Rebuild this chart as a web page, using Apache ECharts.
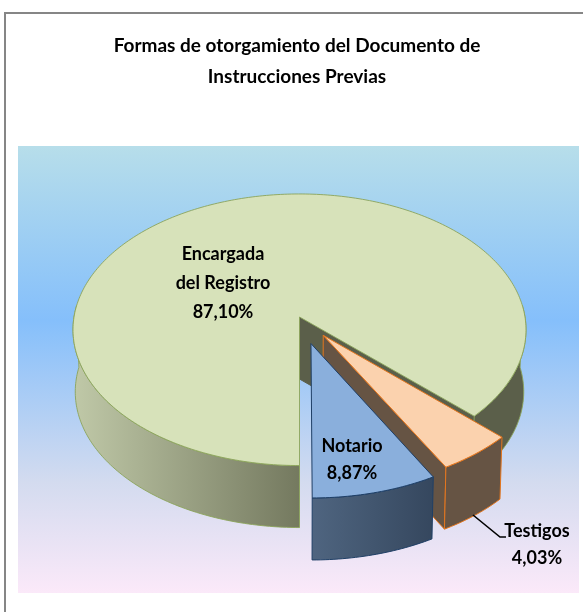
<!DOCTYPE html>
<html><head><meta charset="utf-8">
<style>html,body{margin:0;padding:0;background:#fff}#c{width:583px;height:612px}</style>
<script src="https://cdn.jsdelivr.net/npm/echarts@6/dist/echarts.min.js"></script>
</head><body><div id="c"></div>
<script>
var titleLines = ['Formas de otorgamiento del Documento de', 'Instrucciones Previas'];
var categories = ['Encargada\ndel Registro', 'Testigos', 'Notario'];
var values = [87.10, 4.03, 8.87];

// Projection of the tilted pie (style constants, not data)
var FONT = 'Lato,"Liberation Sans",sans-serif';
var CX = 299.5, CY = 317, A = 225.5, B = 134.6, K = 0.0939, DEPTH = 62, XS = 0.99;
var explode = [0, 0.17, 0.2];
var edgeSkew = [[0,0],[0,3],[3,0]];   // perspective drift of the shared cut between the two small slices
var looks = [
  {top:'#d7e2ba', line:'#8ba45a', side:'#5b5f4a', radial:'#5b5f4a',
   wall:['#c0c9a8','#74795f'], lw:0.9},
  {top:'#fbd2ae', line:'#e4761e', side:'#665444', radial:'#665444',
   wall:['#665444','#665444'], lw:1},
  {top:'#8aafdc', line:'#1f3f66', side:'#3a4c63', radial:'#3a4c63',
   wall:['#4f6580','#35475e'], lw:1}
];
var labelAt = [[223,283],[537,545],[352,460]];
var total = values.reduce(function(a,b){return a+b;},0);
var starts = []; (function(){var s=180; values.forEach(function(v){starts.push(s); s+=v/total*360;});})();

function pt(deg, r, dx, dy, low){
  var t = deg*Math.PI/180, u = r*Math.sin(t)+dx, v = -r*Math.cos(t)+dy, d = 1-K*v;
  var X = A*u/d, Y = B*v/d;
  return low ? [CX+X*XS, CY+Y+DEPTH] : [CX+X, CY+Y];
}
function arc(a,b,dx,dy,low){
  var out=[], n=Math.max(2,Math.ceil(Math.abs(b-a))), i;
  for(i=0;i<=n;i++) out.push(pt(a+(b-a)*i/n,1,dx,dy,low));
  return out;
}
function poly(points, fill, stroke, lw){
  return {type:'polygon', shape:{points:points}, style:{fill:fill, stroke:stroke, lineWidth:lw, lineJoin:'round'}};
}
function wall(a,b,dx,dy,fill,look){
  return poly(arc(a,b,dx,dy,false).concat(arc(b,a,dx,dy,true)), fill, look.line, look.lw);
}
function grad(c){ return new echarts.graphic.LinearGradient(0,0,1,0,[{offset:0,color:c[0]},{offset:1,color:c[1]}]); }

function renderSlice(params, api){
  var i = params.dataIndex, v = api.value(0);
  var a0 = starts[i]+edgeSkew[i][0], a1 = starts[i]+v/total*360+edgeSkew[i][1];
  var mid = (a0+a1)/2*Math.PI/180, e = explode[i];
  var dx = e*Math.sin(mid), dy = -e*Math.cos(mid), L = looks[i], kids = [];
  var c0 = pt(0,0,dx,dy,false), c1 = pt(0,0,dx,dy,true);
  if(i===0){
    var endA = a1;                       // far cut edge of the main body
    var eT = pt(endA,1,dx,dy,false), eB = pt(endA,1,dx,dy,true);
    kids.push(poly([c0,eT,eB,c1], L.radial, L.radial, 1));
    kids.push(wall(180,275,dx,dy,grad(L.wall),L));
    kids.push(wall(85,endA-360,dx,dy,L.side,L));
  } else {
    if(i===1){
      var pT = pt(a1,1,dx,dy,false), pB = pt(a1,1,dx,dy,true);
      kids.push(poly([c0,pT,pB,c1], L.radial, L.line, L.lw));
    }
    kids.push(wall(a0,a1,dx,dy,i===2?grad(L.wall):L.side,L));
  }
  kids.push(poly([c0].concat(arc(a0,a1,dx,dy,false)), L.top, L.line, L.lw));
  if(i===1){
    kids.push({type:'polyline', shape:{points:[[473,515],[500,537],[506,537]]},
      style:{fill:null, stroke:'#000', lineWidth:1.6}});
  }
  kids.push({type:'text', z2:10, style:{
    x:labelAt[i][0], y:labelAt[i][1], align:'center', verticalAlign:'middle',
    text:categories[i]+'\n'+v.toFixed(2).replace('.',',')+'%',
    font:'bold 18px '+FONT, lineHeight:i===0?29:27, fill:'#000'}});
  return {type:'group', children:kids};
}

var chart = echarts.init(document.getElementById('c'), null, {renderer:'canvas'});
chart.setOption({
  animation:false,
  backgroundColor:'#fff',
  title:{text:titleLines.join('\n'), left:292, top:25, textAlign:'center',
    textStyle:{fontFamily:FONT, fontSize:19, fontWeight:'bold', color:'#000', lineHeight:31}},
  graphic:[
    {type:'rect', z:-1, shape:{x:18,y:146,width:561,height:447},
     style:{fill:new echarts.graphic.LinearGradient(0,0,0,1,[
       {offset:0,color:'#b7deea'},{offset:0.39,color:'#85bffb'},{offset:0.75,color:'#d3dbef'},{offset:1,color:'#fbe9f9'}])}},
    {type:'polyline', z:-1, shape:{points:[[5,612],[5,13],[583,13]]},
     style:{fill:null, stroke:'#868686', lineWidth:2}}
  ],
  series:[{type:'custom', coordinateSystem:'none', renderItem:renderSlice,
    data:values.map(function(v,i){return {name:categories[i].replace('\n',' '), value:[v]};}),
    silent:true, clip:false}]
});
</script></body></html>
